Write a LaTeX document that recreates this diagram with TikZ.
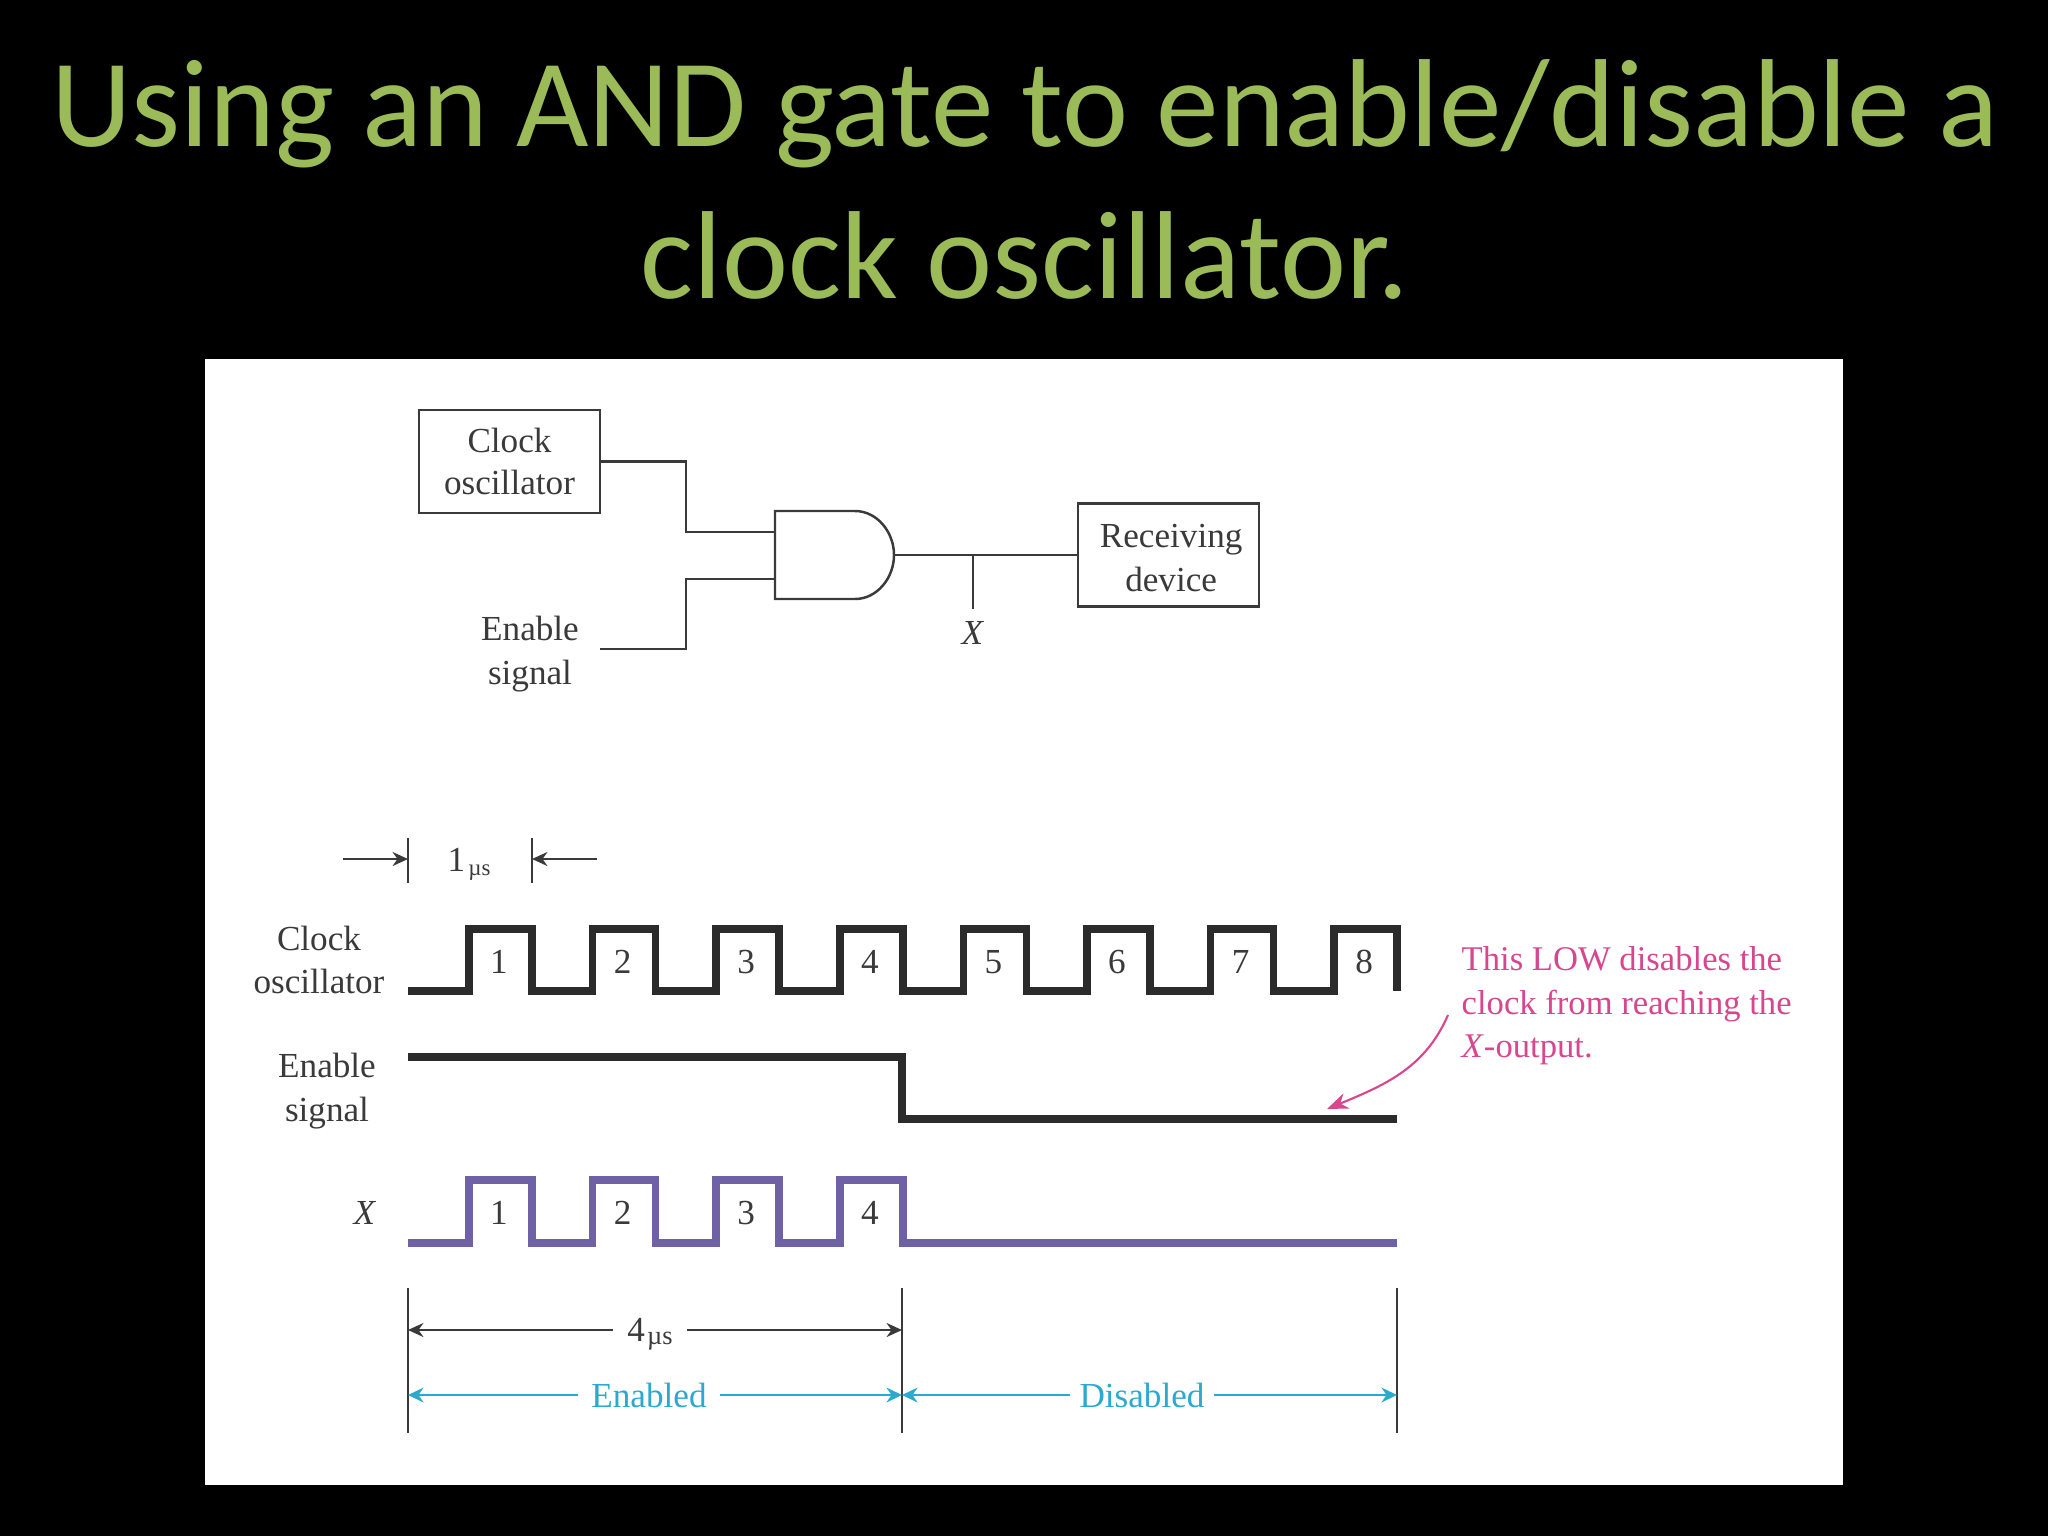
\documentclass[tikz,border=0pt]{standalone}
\usepackage{fontspec}
\setmainfont{Liberation Serif}
\newfontfamily\titlefont{Carlito}
\usetikzlibrary{arrows.meta}
\definecolor{titlegreen}{HTML}{9BBB59}
\definecolor{inkgray}{HTML}{3A3A3A}
\definecolor{sigblack}{HTML}{2B2B2B}
\definecolor{sigpurple}{HTML}{6F61A5}
\definecolor{notepink}{HTML}{D8468F}
\definecolor{spancyan}{HTML}{2BA9CE}
\tikzset{
  slidetitle/.style={font=\titlefont\fontsize{35.6}{40}\selectfont, text=titlegreen, anchor=base, inner sep=0},
  blockbox/.style={draw=inkgray, line width=.8pt, minimum width=1.81cm, minimum height=1.03cm, inner sep=0, align=center, text=inkgray, font=\fontsize{10}{12.2}\selectfont},
  lbl/.style={inner sep=0, align=center, text=inkgray, font=\fontsize{10}{12.2}\selectfont},
  wire/.style={draw=inkgray, line width=.7pt},
  thinline/.style={draw=inkgray, line width=.5pt},
  clocksig/.style={draw=sigblack, line width=2.2pt, miter limit=10},
  xsig/.style={draw=sigpurple, line width=2.2pt, miter limit=10},
  dimarrow/.style={draw=inkgray, line width=.55pt, -{Stealth[length=4.4pt, width=4pt]}},
  spanarrow/.style={draw=spancyan, line width=.7pt, -{Stealth[length=4.4pt, width=4.2pt]}},
  notearrow/.style={draw=notepink, line width=.6pt, -{Stealth[length=6pt, width=4.6pt]}}
}
\begin{document}
\begin{tikzpicture}[x=.01cm, y=-.01cm]
\useasboundingbox (0,0) rectangle (2048,1536);
\fill[black] (0,0) rectangle (2048,1536);
\fill[white] (205,359) rectangle (1843,1485);

\node[slidetitle] (titleone) at (1025,146) {Using an AND gate to enable/disable a};
\node[slidetitle] (titletwo) at (1025,298) {clock oscillator.};

% gate circuit
\node[blockbox] (clockbox) at (509.5,461.5) {Clock\\oscillator};
\node[blockbox, text height=21pt] (recvbox) at (1168.5,555) {\hspace*{1.5pt}Receiving\\[.4pt]\hspace*{1.5pt}device};
\node[lbl] (enablelbl) at (530,654) {Enable\\[.3pt]signal};
\node[lbl] (xlbl) at (973,633) {\textit{X}};

\coordinate (gatea) at (775,532);
\coordinate (gateb) at (775,579);
\coordinate (gateout) at (894,555);
\coordinate (clockbend) at (686,532);
\coordinate (enablebend) at (686,579);
\coordinate (enablefree) at (600,649);
\coordinate (xtap) at (973,555);
\coordinate (xstub) at (973,609);

\draw[wire, fill=white] (775,511) -- (855,511) .. controls (877,511) and (894,532) .. (gateout)
  .. controls (894,578) and (877,599) .. (855,599) -- (775,599) -- cycle;
\draw[wire] (clockbox.east) -| (clockbend) -- (gatea);
\draw[wire] (enablefree) -| (enablebend) -- (gateb);
\draw[wire] (gateout) -- (recvbox.west);
\draw[thinline] (xtap) -- (xstub);

% 1 us mark
\begin{scope}
\coordinate (tickatop) at (408,838);
\coordinate (tickabot) at (408,883);
\coordinate (tickbtop) at (532,838);
\coordinate (tickbbot) at (532,883);
\coordinate (onefreea) at (343,859);
\coordinate (onefreeb) at (597,859);
\draw[thinline] (tickatop) -- (tickabot);
\draw[thinline] (tickbtop) -- (tickbbot);
\draw[dimarrow] (onefreea) -- (onefreea -| tickatop);
\draw[dimarrow] (onefreeb) -- (onefreeb -| tickbtop);
\node[lbl] (onelbl) at (469,864) {1\hspace{.9pt}\raisebox{-1.2pt}{\fontsize{6.5}{7}\selectfont µs}};
\end{scope}

% waveforms
\node[lbl] (clocklbl) at (319,960) {Clock\\oscillator};
\node[lbl] (enablesiglbl) at (327,1091) {Enable\\[.4pt]signal};
\node[lbl] (xsiglbl) at (365,1213) {\textit{X}};

\draw[clocksig] (408,991)
  \foreach \i in {0,...,6} {
    -- ({469+\i*123.6},991) -- ({469+\i*123.6},929) -- ({532+\i*123.6},929) -- ({532+\i*123.6},991)
  }
  -- (1334,991) -- (1334,929) -- (1397,929) -- (1397,991);
\foreach \i in {1,...,8}
  \node[lbl] (clocknum\i) at ({499+(\i-1)*123.6},962) {\i};

\draw[clocksig] (408,1057) -- (902,1057) -- (902,1119) -- (1397,1119);

\draw[xsig] (408,1243)
  \foreach \i in {0,...,3} {
    -- ({469+\i*123.6},1243) -- ({469+\i*123.6},1180) -- ({532+\i*123.6},1180) -- ({532+\i*123.6},1243)
  }
  -- (1397,1243);
\foreach \i in {1,...,4}
  \node[lbl] (xnum\i) at ({499+(\i-1)*123.6},1213) {\i};

% spans
\foreach \n/\x in {a/408,b/902,c/1397} {
  \coordinate (span\n top) at (\x,1288);
  \coordinate (span\n bot) at (\x,1433);
  \draw[thinline] (span\n top) -- (span\n bot);
}
\node[lbl, inner sep=4pt, text height=9pt] (fourlbl) at (650,1330) {4\hspace{.6pt}\raisebox{-1pt}{\fontsize{7.5}{8}\selectfont µs}};
\draw[dimarrow] (fourlbl) -- (spanatop |- fourlbl);
\draw[dimarrow] (fourlbl) -- (spanbtop |- fourlbl);

\node[lbl, text=spancyan, inner sep=3.5pt] (enabledlbl) at (649,1395) {Enabled};
\node[lbl, text=spancyan, inner sep=2.5pt] (disabledlbl) at (1142,1395) {Disabled};
\draw[spanarrow] (enabledlbl) -- (spanatop |- enabledlbl);
\draw[spanarrow] (enabledlbl) -- (spanbtop |- enabledlbl);
\draw[spanarrow] (disabledlbl) -- (spanbtop |- disabledlbl);
\draw[spanarrow] (disabledlbl) -- (spanctop |- disabledlbl);

% note on the LOW level
\node[lbl, text=notepink, align=left, anchor=west, font=\fontsize{9.85}{12.4}\selectfont] (notelbl) at (1461,1006) {This LOW disables the\\clock from reaching the\\\textit{X}-output.};
\coordinate (notefree) at (1448,1015);
\coordinate (notelow) at (1327,1109);
\draw[notearrow] (notefree) .. controls (1425,1068) and (1385,1085) .. (notelow);
\end{tikzpicture}
\end{document}
